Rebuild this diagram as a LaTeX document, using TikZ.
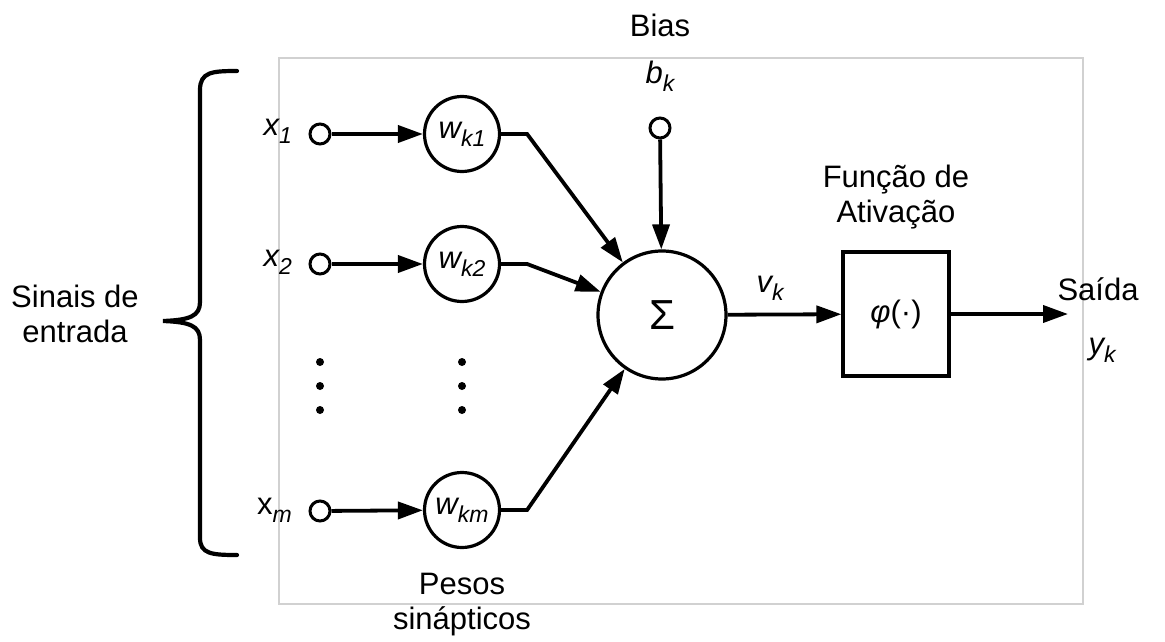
\documentclass[tikz,border=0pt]{standalone}
\usepackage{fontspec}
\setmainfont{Liberation Sans}
\usetikzlibrary{arrows.meta}
\newcommand\lowsub[1]{\raisebox{-0.5ex}{\fontsize{23}{23}\selectfont\itshape #1}}
\begin{document}
\begin{tikzpicture}[x=1pt,y=-1pt,
  every node/.style={font=\fontsize{31}{35}\selectfont},
  label/.style={inner sep=0pt, align=center},
  terminal/.style={circle, draw, line width=3pt, minimum size=20pt, inner sep=0pt},
  weight/.style={circle, draw, line width=3.2pt, minimum size=75pt, inner sep=0pt},
  summer/.style={circle, draw, line width=3.2pt, minimum size=128pt, inner sep=0pt},
  actbox/.style={draw, line width=3.2pt, minimum width=106pt, minimum height=124pt, inner sep=0pt},
  conn/.style={line width=3.8pt, -{Triangle[length=25pt,width=17pt]}},
  dotmark/.style={circle, fill, minimum size=8pt, inner sep=0pt}
]
\useasboundingbox (0,0) rectangle (1165,642);

% light frame around the neuron
\draw[black!18, line width=1.2pt] (279,58) rectangle (1083,604);

% inputs
\node[terminal] (x1) at (320,134) {};
\node[terminal] (x2) at (320,264) {};
\node[terminal] (xm) at (320,511) {};
\node[label, anchor=east] (lx1) at (292,131) {\itshape x\lowsub{1}};
\node[label, anchor=east] (lx2) at (292,262) {\itshape x\lowsub{2}};
\node[label, anchor=east] (lxm) at (292,510) {x\lowsub{m}};

% synaptic weights
\node[weight] (w1) at (462,134) {\itshape w\lowsub{k1}};
\node[weight] (w2) at (462,264) {\itshape w\lowsub{k2}};
\node[weight] (wm) at (462,510) {\itshape w\lowsub{km}};

% ellipsis dots
\foreach \yy [count=\i] in {362,386,410} {
  \node[dotmark] (dx\i) at (320,\yy) {};
  \node[dotmark] (dw\i) at (462,\yy) {};
}

% summing junction, bias, activation
\node[summer] (sum) at (662,315) {\fontsize{42}{42}\selectfont Σ};
\node[terminal] (bias) at (660,128) {};
\node[label] (lbk) at (660,76) {\itshape b\lowsub{k}};
\node[label] (lbias) at (660,25) {Bias};
\node[actbox] (act) at (896,314) {{\itshape φ}(·)};
\node[label] (lact) at (896,197) {Função de\\Ativação};
\node[label] (lvk) at (770,288) {\itshape v\lowsub{k}};
\coordinate (out) at (1068,314);
\node[label] (lout) at (1098,289) {Saída};
\node[label] (lyk) at (1102,350) {\itshape y\lowsub{k}};

% labels below and left
\node[label] (lpesos) at (462,605) {Pesos\\sinápticos};
\node[label] (lsinais) at (75,314) {Sinais de\\entrada};

% connectors
\draw[conn] (x1) -- (w1);
\draw[conn] (x2) -- (w2);
\draw[conn] (xm) -- (wm);
\draw[conn] (w1.east) -- ++(26,0) -- (sum);
\draw[conn] (w2.east) -- ++(26,0) -- (sum);
\draw[conn] (wm.east) -- ++(26,0) -- (sum);
\draw[conn] (bias) -- (sum);
\draw[conn] (sum) -- (act);
\draw[conn] (act) -- (out);

% input brace
\draw[line width=4.2pt, line cap=round]
  (237,71) .. controls (212,71) and (200,72) .. (200,90)
  -- (200,302) .. controls (200,316) and (190,320) .. (163,321)
  .. controls (190,322) and (200,326) .. (200,340)
  -- (200,538) .. controls (200,554) and (212,555) .. (237,555);
\end{tikzpicture}
\end{document}
